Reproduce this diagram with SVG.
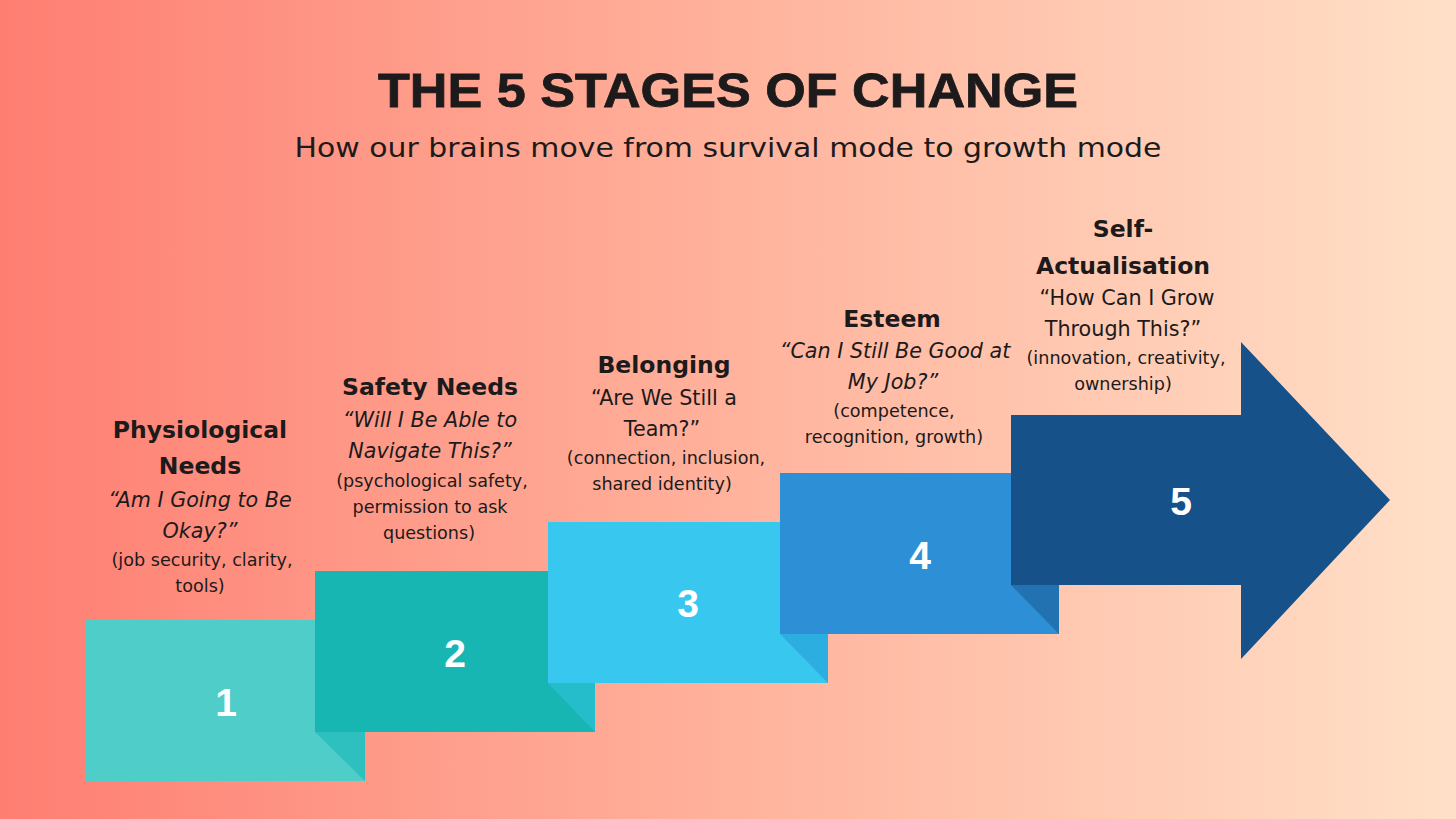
<svg xmlns="http://www.w3.org/2000/svg" width="1456" height="819" viewBox="0 0 1456 819">
<defs>
<linearGradient id="bg" x1="0" y1="0" x2="1" y2="0">
<stop offset="0" stop-color="#FE7E72"/>
<stop offset="0.5" stop-color="#FFB29C"/>
<stop offset="1" stop-color="#FFE0C8"/>
</linearGradient>
<style>
.title{font-family:"Liberation Sans",Arial,sans-serif;font-weight:bold;font-size:49px;fill:#1c1a1a;stroke:#1c1a1a;stroke-width:0.8px;}
.sub{font-family:"DejaVu Sans","Liberation Sans",sans-serif;font-size:27px;fill:#1c1a1a;}
.h{font-family:"DejaVu Sans","Liberation Sans",sans-serif;font-weight:bold;font-size:23.5px;fill:#1c1a1a;text-anchor:middle;}
.q{font-family:"DejaVu Sans","Liberation Sans",sans-serif;font-style:italic;font-size:20.7px;fill:#1c1a1a;text-anchor:middle;}
.qn{font-family:"DejaVu Sans","Liberation Sans",sans-serif;font-size:20.7px;fill:#1c1a1a;text-anchor:middle;}
.d{font-family:"DejaVu Sans","Liberation Sans",sans-serif;font-size:17.6px;fill:#1c1a1a;text-anchor:middle;}
.n{font-family:"Liberation Sans",Arial,sans-serif;font-weight:bold;font-size:39px;fill:#ffffff;text-anchor:middle;}
</style>
</defs>
<rect x="0" y="0" width="1456" height="819" fill="url(#bg)"/>
<text class="title" x="728" y="107" text-anchor="middle" textLength="700" lengthAdjust="spacingAndGlyphs">THE 5 STAGES OF CHANGE</text>
<text class="sub" x="728" y="157" text-anchor="middle" textLength="867" lengthAdjust="spacingAndGlyphs">How our brains move from survival mode to growth mode</text>

<g id="step1">
<rect x="86" y="620" width="279" height="161" fill="#4ECDC9"/>
<polygon points="315,732 365,732 365,781" fill="#2EC0BF"/>
<text class="n" x="226" y="716">1</text>
<text class="h" x="200" y="438">Physiological</text>
<text class="h" x="200" y="474">Needs</text>
<text class="q" x="200" y="507">“Am I Going to Be</text>
<text class="q" x="200" y="538">Okay?”</text>
<text class="d" x="202" y="566">(job security, clarity,</text>
<text class="d" x="200" y="592">tools)</text>
</g>
<g id="step2">
<rect x="315" y="571" width="280" height="161" fill="#18B6B3"/>
<polygon points="548,683 595,683 595,732" fill="#25BDCB"/>
<text class="n" x="455" y="667">2</text>
<text class="h" x="430" y="395">Safety Needs</text>
<text class="q" x="430" y="427">“Will I Be Able to</text>
<text class="q" x="430" y="458">Navigate This?”</text>
<text class="d" x="432" y="487">(psychological safety,</text>
<text class="d" x="430" y="513">permission to ask</text>
<text class="d" x="429" y="539">questions)</text>
</g>
<g id="step3">
<rect x="548" y="522" width="280" height="161" fill="#38C7EE"/>
<polygon points="780,634 828,634 828,683" fill="#2DAEE0"/>
<text class="n" x="688" y="617">3</text>
<text class="h" x="664" y="373">Belonging</text>
<text class="qn" x="664" y="405">“Are We Still a</text>
<text class="qn" x="662" y="436">Team?”</text>
<text class="d" x="666" y="464">(connection, inclusion,</text>
<text class="d" x="662" y="490">shared identity)</text>
</g>
<g id="step4">
<rect x="780" y="473" width="279" height="161" fill="#2D90D6"/>
<polygon points="1011,585 1059,585 1059,634" fill="#2272B2"/>
<text class="n" x="920" y="569">4</text>
<text class="h" x="892" y="327">Esteem</text>
<text class="q" x="895" y="358">“Can I Still Be Good at</text>
<text class="q" x="893" y="389">My Job?”</text>
<text class="d" x="894" y="417">(competence,</text>
<text class="d" x="894" y="443">recognition, growth)</text>
</g>
<g id="step5">
<polygon points="1011,415 1241,415 1241,342 1390,500 1241,659 1241,585 1011,585" fill="#165289"/>
<text class="n" x="1181" y="515">5</text>
<text class="h" x="1123" y="237">Self-</text>
<text class="h" x="1123" y="274">Actualisation</text>
<text class="qn" x="1127" y="305">“How Can I Grow</text>
<text class="qn" x="1123" y="336">Through This?”</text>
<text class="d" x="1126" y="364">(innovation, creativity,</text>
<text class="d" x="1123" y="390">ownership)</text>
</g>
<g id="connectors"></g>
</svg>
